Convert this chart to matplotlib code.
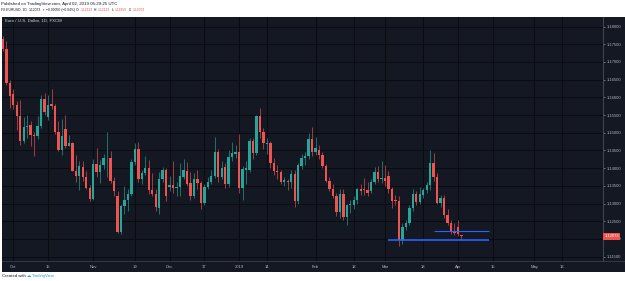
import numpy as np
import pandas as pd
import matplotlib
matplotlib.use('Agg')
import matplotlib.pyplot as plt
from matplotlib.patches import Rectangle

plt.rcParams['font.family'] = ['Liberation Sans', 'DejaVu Sans']

# ---------------------------------------------------------------
# EUR/USD daily candles, 2018-09-26 .. 2019-04-02
# ---------------------------------------------------------------
opens = [
    1.1766, 1.1738, 1.1641,
    1.1610, 1.1579, 1.1547, 1.1478, 1.1516,
    1.1522, 1.1495, 1.1492, 1.1518, 1.1595,
    1.1545, 1.1581, 1.1575, 1.1502, 1.1452,
    1.1512, 1.1464, 1.1471, 1.1393, 1.1377,
    1.1403, 1.1374, 1.1344, 1.1314, 1.1412,
    1.1388, 1.1409, 1.1428, 1.1430, 1.1365,
    1.1321, 1.1221, 1.1293, 1.1310, 1.1326,
    1.1418, 1.1454, 1.1369, 1.1385, 1.1401,
    1.1337, 1.1327, 1.1287, 1.1369, 1.1395,
    1.1348, 1.1353, 1.1343, 1.1346, 1.1376,
    1.1393, 1.1357, 1.1320, 1.1369, 1.1357,
    1.1303, 1.1348, 1.1362, 1.1378, 1.1447,
    1.1376, 1.1402, 1.1354, 1.1431,
    1.1440, 1.1447, 1.1345, 1.1395,
    1.1395, 1.1477, 1.1442, 1.1546, 1.1503,
    1.1468, 1.1470, 1.1416, 1.1392, 1.1390,
    1.1360, 1.1365, 1.1362, 1.1384, 1.1306,
    1.1405, 1.1428, 1.1433, 1.1482, 1.1447,
    1.1452, 1.1437, 1.1406, 1.1364, 1.1341,
    1.1321, 1.1277, 1.1327, 1.1263, 1.1296,
    1.1296, 1.1310, 1.1341, 1.1342, 1.1338,
    1.1336, 1.1360, 1.1390, 1.1369, 1.1372,
    1.1378, 1.1340, 1.1310, 1.1307, 1.1197,
    1.1235, 1.1246, 1.1288, 1.1327, 1.1305,
    1.1325, 1.1338, 1.1353, 1.1416, 1.1376,
    1.1303, 1.1315, 1.1268, 1.1246, 1.1221,
    1.1233, 1.12123,
]
highs = [
    1.1772, 1.1758, 1.1650,
    1.1625, 1.1590, 1.1593, 1.1544, 1.1549,
    1.1532, 1.1502, 1.1546, 1.1608, 1.1612,
    1.1608, 1.1624, 1.1580, 1.1532, 1.1540,
    1.1551, 1.1494, 1.1475, 1.1436, 1.1421,
    1.1419, 1.1391, 1.1353, 1.1426, 1.1458,
    1.1423, 1.1440, 1.1501, 1.1449, 1.1374,
    1.1335, 1.1300, 1.1350, 1.1340, 1.1425,
    1.1470, 1.1473, 1.1395, 1.1435, 1.1423,
    1.1385, 1.1340, 1.1390, 1.1404, 1.1400,
    1.1378, 1.1421, 1.1360, 1.1415, 1.1425,
    1.1418, 1.1388, 1.1385, 1.1395, 1.1365,
    1.1355, 1.1375, 1.1395, 1.1487, 1.1455,
    1.1420, 1.1415, 1.1450, 1.1475,
    1.1465, 1.1496, 1.1405, 1.1420,
    1.1485, 1.1485, 1.1550, 1.1569, 1.1513,
    1.1485, 1.1478, 1.1430, 1.1410, 1.1395,
    1.1375, 1.1370, 1.1395, 1.1395, 1.1415,
    1.1440, 1.1445, 1.1500, 1.1515, 1.1488,
    1.1465, 1.1445, 1.1412, 1.1375, 1.1355,
    1.1330, 1.1340, 1.1340, 1.1300, 1.1310,
    1.1320, 1.1345, 1.1355, 1.1371, 1.1360,
    1.1370, 1.1404, 1.1405, 1.1421, 1.1409,
    1.1393, 1.1348, 1.1325, 1.1320, 1.1245,
    1.1255, 1.1295, 1.1340, 1.1335, 1.1348,
    1.1345, 1.1362, 1.1450, 1.1442, 1.1385,
    1.1325, 1.1325, 1.1285, 1.1255, 1.1245,
    1.1255, 1.12123,
]
lows = [
    1.1730, 1.1636, 1.1570,
    1.1568, 1.1509, 1.1466, 1.1471, 1.1485,
    1.1462, 1.1435, 1.1483, 1.1513, 1.1549,
    1.1537, 1.1566, 1.1497, 1.1449, 1.1436,
    1.1458, 1.1462, 1.1391, 1.1361, 1.1339,
    1.1363, 1.1342, 1.1306, 1.1311, 1.1374,
    1.1357, 1.1398, 1.1376, 1.1357, 1.1321,
    1.1216, 1.1215, 1.1270, 1.1280, 1.1320,
    1.1410, 1.1360, 1.1355, 1.1380, 1.1328,
    1.1320, 1.1280, 1.1271, 1.1360, 1.1308,
    1.1335, 1.1330, 1.1320, 1.1320, 1.1370,
    1.1350, 1.1310, 1.1315, 1.1340, 1.1284,
    1.1297, 1.1340, 1.1355, 1.1372, 1.1360,
    1.1370, 1.1345, 1.1348, 1.1420,
    1.1430, 1.1330, 1.1310, 1.1355,
    1.1390, 1.1425, 1.1438, 1.1485, 1.1455,
    1.1440, 1.1400, 1.1380, 1.1370, 1.1355,
    1.1350, 1.1338, 1.1345, 1.1291, 1.1298,
    1.1398, 1.1410, 1.1425, 1.1435, 1.1437,
    1.1425, 1.1400, 1.1360, 1.1335, 1.1315,
    1.1265, 1.1260, 1.1255, 1.1240, 1.1272,
    1.1285, 1.1300, 1.1325, 1.1325, 1.1320,
    1.1330, 1.1355, 1.1360, 1.1358, 1.1350,
    1.1330, 1.1287, 1.1295, 1.1180, 1.1185,
    1.1225, 1.1240, 1.1280, 1.1295, 1.1300,
    1.1315, 1.1330, 1.1337, 1.1365, 1.1300,
    1.1290, 1.1260, 1.1240, 1.1213, 1.1210,
    1.1208, 1.11959,
]
closes = [
    1.1738, 1.1641, 1.1603,
    1.1579, 1.1547, 1.1478, 1.1516, 1.1520,
    1.1493, 1.1490, 1.1518, 1.1595, 1.1559,
    1.1579, 1.1575, 1.1501, 1.1452, 1.1490,
    1.1462, 1.1470, 1.1393, 1.1377, 1.1407,
    1.1374, 1.1344, 1.1314, 1.1412, 1.1388,
    1.1409, 1.1428, 1.1430, 1.1365, 1.1336,
    1.1221, 1.1293, 1.1310, 1.1326, 1.1418,
    1.1454, 1.1369, 1.1385, 1.1401, 1.1337,
    1.1327, 1.1289, 1.1369, 1.1395, 1.1320,
    1.1352, 1.1343, 1.1348, 1.1378, 1.1395,
    1.1355, 1.1320, 1.1369, 1.1357, 1.1303,
    1.1348, 1.1362, 1.1378, 1.1447, 1.1376,
    1.1400, 1.1354, 1.1431, 1.1442,
    1.1447, 1.1343, 1.1397, 1.1400,
    1.1477, 1.1442, 1.1546, 1.1503, 1.1470,
    1.1472, 1.1416, 1.1392, 1.1389, 1.1362,
    1.1367, 1.1362, 1.1384, 1.1306, 1.1409,
    1.1428, 1.1433, 1.1482, 1.1447, 1.1456,
    1.1437, 1.1406, 1.1364, 1.1341, 1.1321,
    1.1277, 1.1327, 1.1263, 1.1296, 1.1298,
    1.1310, 1.1341, 1.1336, 1.1337, 1.1331,
    1.1360, 1.1390, 1.1369, 1.1372, 1.1365,
    1.1340, 1.1308, 1.1307, 1.1197, 1.1235,
    1.1246, 1.1288, 1.1327, 1.1305, 1.1327,
    1.1338, 1.1353, 1.1416, 1.1376, 1.1303,
    1.1315, 1.1268, 1.1246, 1.1221, 1.1217,
    1.1214, 1.12073,
]

first_day = '2018-09-26'
holidays = ['2018-12-25', '2019-01-01']

tick_dates = ['2018-10-01', '2018-10-15', '2018-11-01', '2018-11-19', '2018-12-03',
              '2018-12-17', '2019-01-02', '2019-01-14', '2019-02-01', '2019-02-18',
              '2019-03-01', '2019-03-18', '2019-04-01', '2019-04-15', '2019-05-01',
              '2019-05-13']
tick_labels = ['Oct', '15', 'Nov', '19', 'Dec', '17', '2019', '14', 'Feb', '18',
               'Mar', '18', 'Apr', '15', 'May', '13']
price_ticks = [1.115, 1.120, 1.125, 1.130, 1.135, 1.140, 1.145, 1.150,
               1.155, 1.160, 1.165, 1.170, 1.175, 1.180]

# horizontal levels drawn by the author
level_prices = [1.11963, 1.12226]
level_starts = ['2019-03-04', '2019-03-21']
level_ends = ['2019-04-12', '2019-04-12']

# ---------------------------------------------------------------
# bar positions: trading days only (weekends / holidays skipped)
days = pd.bdate_range(first_day, '2019-06-28')
days = days[~days.isin(pd.to_datetime(holidays))]
pos = pd.Series(np.arange(len(days)), index=days)

o, h, l, c = (np.array(v) for v in (opens, highs, lows, closes))
x = np.arange(len(c))
up = c >= o

UP, DOWN = '#26a69a', '#ef5350'
PANEL = '#141823'
GRID = '#0a0c12'
TXT = '#b2b5be'

W, H = 625, 281
fig = plt.figure(figsize=(W / 100, H / 100), dpi=100, facecolor='white')

# background layer in pixel coordinates
bg = fig.add_axes([0, 0, 1, 1])
bg.set_xlim(0, W)
bg.set_ylim(H, 0)
bg.axis('off')
bg.add_patch(Rectangle((2, 17), W - 2, 255, color=PANEL, lw=0))
bg.plot([2, W], [261, 261], color='#3a3e4a', lw=0.6)


def chain(x0, y0, parts, size, weight='normal'):
    t = bg.text(x0, y0, parts[0][0], color=parts[0][1], size=size,
                va='center', fontweight=weight)
    for s, col, gap in parts[1:]:
        t = bg.annotate(s, xy=(1, 0.5), xycoords=t, xytext=(gap, 0),
                        textcoords='offset points', va='center', size=size,
                        color=col, fontweight=weight)
    return t


blk, red = '#131722', '#ef5350'
bg.text(1, 4.3, 'Published on TradingView.com, April 02, 2019 05:29:25 UTC',
        size=3.15, color=blk, va='center')
chain(1, 10.0, [('FX:EURUSD, 1D', blk), ('1.12073', blk, 1.2), ('\u25bc', red, 0.6),
                ('\u22120.00050 (\u22120.04%)', blk, 0.6), ('O:', blk, 1.0),
                ('1.12123', red, 0.4), ('H:', blk, 1.0), ('1.12123', red, 0.4),
                ('L:', blk, 1.0), ('1.11959', red, 0.4), ('C:', blk, 1.0),
                ('1.12073', red, 0.4)], size=2.45)
chain(2, 276, [('Created with', blk), ('\u2601', '#2196f3', 1.0),
               ('TradingView', '#2196f3', 0.3)], size=3.1)

# ---------------------------------------------------------------
ax = fig.add_axes([2 / W, 1 - 261 / H, 601 / W, 244 / H])
ax.set_facecolor('none')

ax.vlines(x, l, h, colors=np.where(up, UP, DOWN), lw=0.6, alpha=0.75, zorder=2)
ax.bar(x, np.maximum(np.abs(c - o), 0.00012), bottom=np.minimum(o, c), width=0.68,
       color=np.where(up, UP, DOWN), lw=0, zorder=3)

for p, s, e, lw in zip(level_prices, level_starts, level_ends, [1.2, 0.8]):
    ax.hlines(p, pos[pd.Timestamp(s)], pos[pd.Timestamp(e)], color='#2962ff', lw=lw,
              zorder=4)

ax.set_xlim(-0.25, 172.75)
ax.set_ylim(1.11378, 1.1827)
ax.set_xticks(pos[pd.to_datetime(tick_dates)].values, tick_labels)
ax.set_yticks(price_ticks, [f'{v:.5f}' for v in price_ticks])
ax.yaxis.tick_right()
ax.grid(True, color=GRID, lw=0.7)
ax.set_axisbelow(True)
ax.tick_params(axis='x', length=0, pad=3.2, labelsize=3, labelcolor=TXT)
ax.tick_params(axis='y', length=1.2, width=0.4, color=TXT, pad=1.4, labelsize=3,
               labelcolor=TXT)
for side in ['left', 'top', 'bottom']:
    ax.spines[side].set_visible(False)
ax.spines['right'].set_color('#4a4e5a')
ax.spines['right'].set_linewidth(0.6)

ax.text(0.005, 0.984, 'Euro / U.S. Dollar, 1D, FXCM', transform=ax.transAxes,
        size=3.2, color='#d1d4dc', va='center')

# last price tag on the price scale
ax.annotate(f'{closes[-1]:.5f}', xy=(1, closes[-1]), xycoords=('axes fraction', 'data'),
            xytext=(1.1, 0), textcoords='offset points', ha='left', va='center',
            size=3, color='white', annotation_clip=False, zorder=6,
            bbox=dict(boxstyle='square,pad=0.3', fc=DOWN, ec='none'))

fig.savefig('out.png', dpi=100, facecolor='white')
